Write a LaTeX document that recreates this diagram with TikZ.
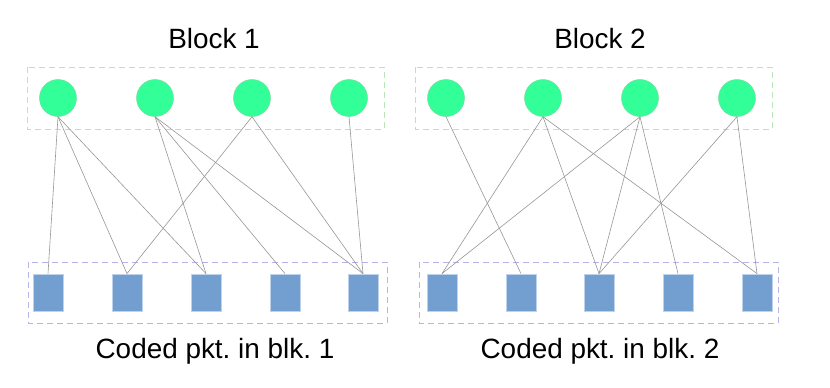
\documentclass[tikz,border=0pt]{standalone}
\usepackage{fontspec}
\setmainfont{Liberation Sans}
\frenchspacing
\definecolor{srcgreen}{RGB}{51,255,153}
\definecolor{srcedge}{RGB}{120,220,160}
\definecolor{pktblue}{RGB}{114,159,207}
\definecolor{pktedge}{RGB}{190,210,235}
\definecolor{edgegray}{RGB}{150,150,150}
\definecolor{boxgreen}{RGB}{185,230,185}
\definecolor{boxpurple}{RGB}{180,180,235}
\begin{document}
\begin{tikzpicture}[x=1bp,y=-1bp,
    src/.style={circle, fill=srcgreen, draw=srcedge, line width=0.5bp, minimum size=37bp, inner sep=0pt},
    pkt/.style={rectangle, fill=pktblue, draw=pktedge, line width=0.8bp, minimum width=30bp, minimum height=37bp, inner sep=0pt},
    link/.style={draw=edgegray, line width=0.6bp},
    grpsrc/.style={draw=boxgreen, line width=0.8bp, dash pattern=on 6bp off 4bp},
    grppkt/.style={draw=boxpurple, line width=0.8bp, dash pattern=on 6bp off 4bp},
    lbl/.style={font=\fontsize{28}{32}\selectfont, anchor=base, inner sep=0pt}]
    \useasboundingbox (0,0) rectangle (830,387);

    % dashed groups
    \draw[grpsrc] (27,67) rectangle (384,129);
    \draw[grpsrc] (415,67) rectangle (772,129);
    \draw[grppkt] (28,262) rectangle (387,323);
    \draw[grppkt] (419,262) rectangle (778,323);

    % source packets
    \foreach \x [count=\i] in {58,155,252,349} {
        \node[src] (s1\i) at (\x,98) {};
    }
    \foreach \x [count=\i] in {446,543,640,737} {
        \node[src] (s2\i) at (\x,98) {};
    }

    % coded packets
    \foreach \x [count=\j] in {48,127,206,285,363} {
        \node[pkt] (c1\j) at (\x,292.5) {};
    }
    \foreach \x [count=\j] in {442,521,599,678,757} {
        \node[pkt] (c2\j) at (\x,292.5) {};
    }

    % links
    \foreach \a/\b in {1/1,1/2,1/3,2/3,2/4,2/5,3/2,3/5,4/5} {
        \draw[link] (s1\a.south) -- (c1\b.north);
    }
    \foreach \a/\b in {1/2,2/1,2/3,2/5,3/1,3/3,3/4,4/3,4/5} {
        \draw[link] (s2\a.south) -- (c2\b.north);
    }

    % labels
    \node[lbl] (blk1) at (214,48) {Block 1};
    \node[lbl] (blk2) at (600,48) {Block 2};
    \node[lbl] (cod1) at (215,358) {Coded pkt. in blk. 1};
    \node[lbl] (cod2) at (600,358) {Coded pkt. in blk. 2};
\end{tikzpicture}
\end{document}
